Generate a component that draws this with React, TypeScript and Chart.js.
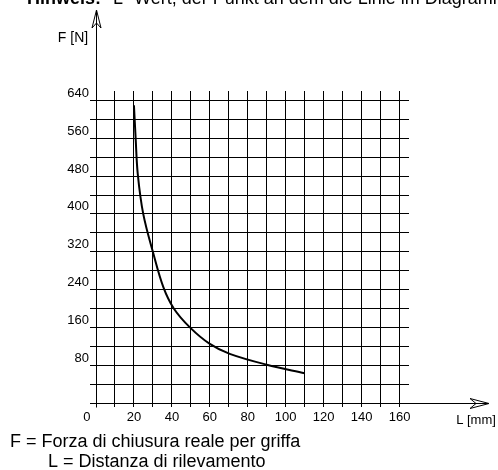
import React, { useEffect, useRef } from "react";
import { Chart, registerables } from "chart.js";

Chart.register(...registerables);

const L_VALUES = [20, 20.9, 22, 24.9, 30.3, 35.5, 41, 49.5, 60, 70.5, 90, 110];
const F_VALUES = [630, 560, 485, 400, 315, 245, 200, 160, 125, 104, 81, 63];
const X_LABELS = [0, 20, 40, 60, 80, 100, 120, 140, 160];
const Y_LABELS = [80, 160, 240, 320, 400, 480, 560, 640];
const Y_AXIS_TITLE = "F [N]";
const X_AXIS_TITLE = "L [mm]";
const NOTE_BOLD = "Hinweis:";
const NOTE_TEXT = "L- Wert, der Punkt an dem die Linie im Diagramm endet";
const LEGEND_1 = "F = Forza di chiusura reale per griffa";
const LEGEND_2 = "L = Distanza di rilevamento";

const FONT = "'Liberation Sans', Arial, sans-serif";

const decorPlugin = {
  id: "decor",
  afterDraw(chart: any) {
    const ctx = chart.ctx as CanvasRenderingContext2D;
    const { left, bottom } = chart.chartArea;
    const ax = Math.round(left) + 0.5;
    const ay = Math.round(bottom) + 0.5;
    ctx.save();
    ctx.strokeStyle = "#000";
    ctx.lineWidth = 1;
    // y axis with arrow
    ctx.beginPath();
    ctx.moveTo(ax, ay + 4);
    ctx.lineTo(ax, 11);
    ctx.stroke();
    ctx.beginPath();
    ctx.moveTo(ax, 10);
    ctx.lineTo(ax - 4.5, 28);
    ctx.lineTo(ax, 23);
    ctx.lineTo(ax + 4.5, 28);
    ctx.closePath();
    ctx.stroke();
    // x axis with arrow
    ctx.beginPath();
    ctx.moveTo(ax - 6, ay);
    ctx.lineTo(488, ay);
    ctx.stroke();
    ctx.beginPath();
    ctx.moveTo(489, ay);
    ctx.lineTo(470, ay - 5);
    ctx.lineTo(476, ay);
    ctx.lineTo(470, ay + 5);
    ctx.closePath();
    ctx.stroke();

    ctx.fillStyle = "#000";
    ctx.textBaseline = "middle";
    ctx.textAlign = "center";
    ctx.font = `14px ${FONT}`;
    ctx.fillText(Y_AXIS_TITLE, 73, 38);
    ctx.font = `13px ${FONT}`;
    ctx.fillText(X_AXIS_TITLE, 476, 420);

    ctx.textAlign = "left";
    ctx.textBaseline = "alphabetic";
    ctx.font = `18px ${FONT}`;
    ctx.fillText(LEGEND_1, 10, 447);
    ctx.fillText(LEGEND_2, 48, 467);

    ctx.font = `bold 18px ${FONT}`;
    ctx.fillText(NOTE_BOLD, 27, 4);
    ctx.font = `18px ${FONT}`;
    ctx.fillText(NOTE_TEXT, 113, 4);
    ctx.restore();
  },
};

export default function App() {
  const ref = useRef<HTMLCanvasElement | null>(null);
  useEffect(() => {
    if (!ref.current) return;
    const data = L_VALUES.map((x, i) => ({ x, y: F_VALUES[i] }));
    const chart = new Chart(ref.current, {
      type: "line",
      data: {
        datasets: [
          {
            data,
            borderColor: "#000",
            borderWidth: 2,
            pointRadius: 0,
            fill: false,
            tension: 0.35,
          },
        ],
      },
      options: {
        responsive: false,
        animation: false,
        events: [],
        layout: { padding: { left: 0, top: 91, right: 89, bottom: 0 } },
        plugins: { legend: { display: false }, tooltip: { enabled: false } },
        scales: {
          x: {
            type: "linear",
            min: 0,
            max: 165,
            afterFit(scale: any) {
              scale.height = 67;
            },
            border: { display: false },
            grid: { color: "#000", lineWidth: 1, tickLength: 4, drawTicks: true },
            ticks: {
              stepSize: 10,
              includeBounds: false,
              autoSkip: false,
              maxRotation: 0,
              padding: 3,
              color: "#000",
              font: { family: FONT, size: 13 },
              callback: (v: any) => {
                const n = Number(v);
                if (!X_LABELS.includes(n)) return "";
                return n === 0 ? "0     " : String(n);
              },
            },
          },
          y: {
            type: "linear",
            min: 0,
            max: 660,
            afterFit(scale: any) {
              scale.width = 96;
            },
            border: { display: false },
            grid: { color: "#000", lineWidth: 1, tickLength: 6, drawTicks: true },
            ticks: {
              stepSize: 40,
              includeBounds: false,
              autoSkip: false,
              padding: 1,
              labelOffset: -7,
              color: "#000",
              font: { family: FONT, size: 13 },
              callback: (v: any) => {
                const n = Number(v);
                return Y_LABELS.includes(n) ? String(n) : "";
              },
            },
          },
        },
      },
      plugins: [decorPlugin],
    });
    return () => chart.destroy();
  }, []);
  return (
    <div style={{ position: "absolute", left: 0, top: 0, width: 498, height: 470, background: "#fff" }}>
      <canvas ref={ref} width={498} height={470} style={{ display: "block", width: 498, height: 470 }} />
    </div>
  );
}
